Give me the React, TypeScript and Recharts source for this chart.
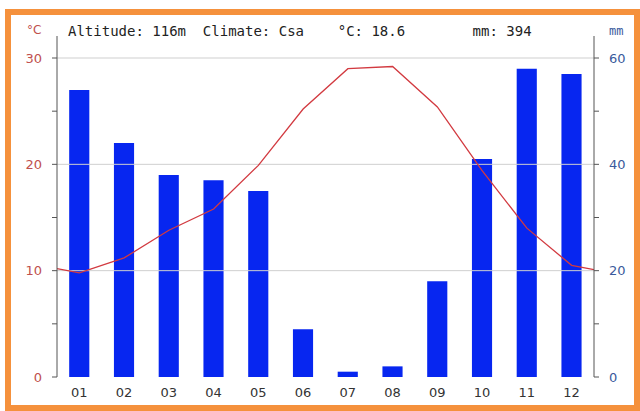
import React from 'react';
import { ComposedChart, Bar, Line, XAxis, YAxis, ReferenceLine } from 'recharts';

// climate chart: precipitation bars (mm, right) and temperature line (°C, left)
const months = ['01', '02', '03', '04', '05', '06', '07', '08', '09', '10', '11', '12'];
const temperature = [9.8, 11.2, 13.8, 15.8, 19.9, 25.2, 29.0, 29.2, 25.4, 19.4, 14.0, 10.5];
const precipitation = [54, 44, 38, 37, 35, 9, 1, 2, 18, 41, 58, 57];
// line runs out to the plot edges
const tempStartEdge = 10.2;
const tempEndEdge = 10.1;

const tempTicks = [0, 5, 10, 15, 20, 25, 30];
const mmTicks = [0, 10, 20, 30, 40, 50, 60];
const gridTemps = [10, 20, 30];

const data = [
  { x: 0.5, temp: tempStartEdge },
  ...months.map((m, i) => ({ x: i + 1, label: m, temp: temperature[i], mm: precipitation[i] })),
  { x: months.length + 0.5, temp: tempEndEdge },
];

const monthTicks = months.map((_, i) => i + 1);
const boundaryTicks = [...months.map((_, i) => i + 0.5), months.length + 0.5];

const mono = '"DejaVu Sans Mono", "Liberation Mono", monospace';
const sans = '"DejaVu Sans", Verdana, sans-serif';

const App: React.FC = () => {
  return (
    <div style={{ position: 'absolute', left: 0, top: 0, width: 640, height: 411, background: '#fff' }}>
      <div
        style={{
          position: 'absolute', left: 5, top: 9, width: 635, height: 402,
          boxSizing: 'border-box', border: '6px solid #f5913c', background: '#fff',
        }}
      />
      <div style={{ position: 'absolute', left: 0, top: 0 }}>
        <ComposedChart width={640} height={411} data={data} margin={{ top: 36, right: 6, bottom: 4, left: 17 }}>
          <XAxis
            xAxisId="b"
            type="number"
            dataKey="x"
            domain={[0.5, 12.5]}
            ticks={boundaryTicks}
            tickFormatter={() => ''}
            height={0}
            stroke="#444"
            tickSize={5}
            allowDataOverflow
          />
          <XAxis
            xAxisId="m"
            type="number"
            dataKey="x"
            domain={[0.5, 12.5]}
            ticks={monthTicks}
            tickFormatter={(v: number) => months[v - 1] ?? ''}
            axisLine={false}
            tickLine={false}
            height={30}
            tickMargin={5}
            tick={{ fontSize: 13, fill: '#333', fontFamily: sans }}
            allowDataOverflow
          />
          <YAxis
            yAxisId="t"
            orientation="left"
            domain={[0, 32.07]}
            ticks={tempTicks}
            tickFormatter={(v: number) => (v % 10 === 0 ? String(v) : '')}
            width={40}
            stroke="#555"
            tickSize={5}
            tickMargin={10}
            tick={{ fontSize: 13, fill: '#c0504d', fontFamily: sans }}
            allowDataOverflow
          />
          <YAxis
            yAxisId="p"
            orientation="right"
            domain={[0, 64.14]}
            ticks={mmTicks}
            tickFormatter={(v: number) => (v % 20 === 0 ? String(v) : '')}
            width={40}
            stroke="#555"
            tickSize={5}
            tickMargin={10}
            tick={{ fontSize: 13, fill: '#3a5a9c', fontFamily: sans }}
            allowDataOverflow
          />
          {gridTemps.map(t => (
            <ReferenceLine key={t} yAxisId="t" xAxisId="b" y={t} stroke="#cfcfcf" strokeWidth={1} />
          ))}
          <Bar
            xAxisId="b"
            yAxisId="p"
            dataKey="mm"
            fill="#0726f0"
            barSize={23}
            isAnimationActive={false}
          />
          <Line
            xAxisId="b"
            yAxisId="t"
            type="linear"
            dataKey="temp"
            stroke="#d23a40"
            strokeWidth={1.3}
            dot={false}
            activeDot={false}
            isAnimationActive={false}
          />
        </ComposedChart>
      </div>
      <div style={{ position: 'absolute', left: 27, top: 23, fontFamily: sans, fontSize: 12, color: '#c0504d' }}>°C</div>
      <div style={{ position: 'absolute', left: 609, top: 24, fontFamily: mono, fontSize: 12, color: '#3a5a9c' }}>mm</div>
      <div style={{ position: 'absolute', left: 68, top: 23, fontFamily: mono, fontSize: 14, color: '#222', whiteSpace: 'pre' }}>
        {'Altitude: 116m  Climate: Csa    °C: 18.6        mm: 394'}
      </div>
    </div>
  );
};

export default App;
